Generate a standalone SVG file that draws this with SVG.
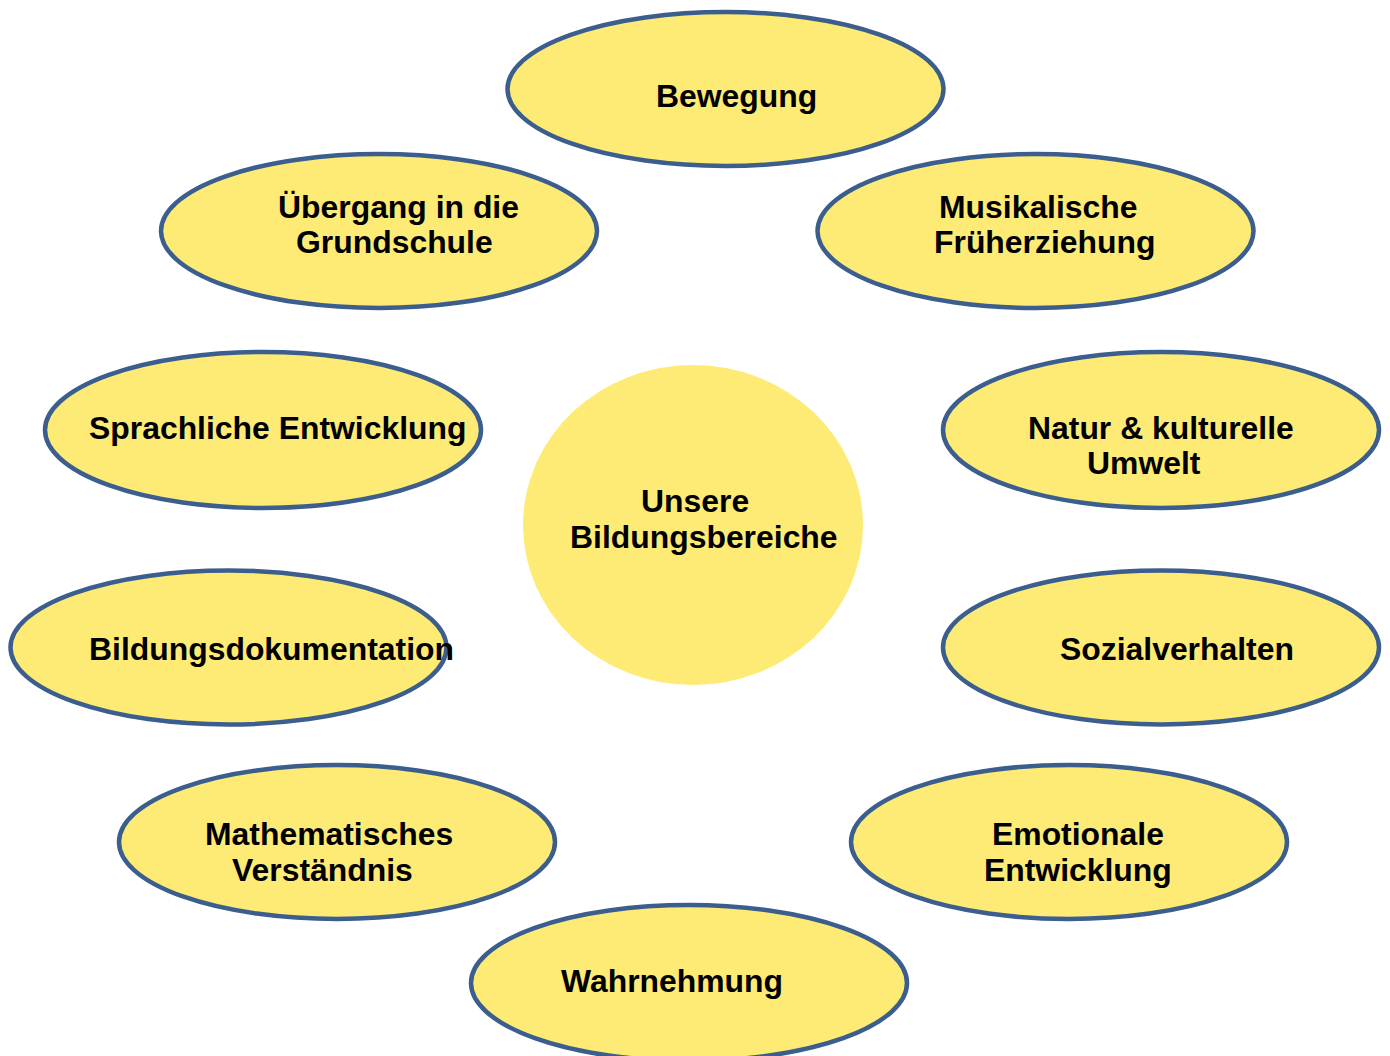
<svg xmlns="http://www.w3.org/2000/svg" width="1390" height="1056" viewBox="0 0 1390 1056">
  <style>
    .bubble { fill: #FEEB75; stroke: #3B5E8E; stroke-width: 4.5; }
    .hub { fill: #FEEB75; stroke: none; }
    .label { font-family: "Liberation Sans", Arial, sans-serif; font-weight: bold; font-size: 31.9px; fill: #000000; }
  </style>
  <rect width="1390" height="1056" fill="#FFFFFF"/>
  <g id="connectors"></g>

  <g id="node-bewegung">
    <ellipse class="bubble" cx="725.5" cy="89" rx="218" ry="77"/>
    <text class="label" x="656" y="107">Bewegung</text>
  </g>

  <g id="node-uebergang">
    <ellipse class="bubble" cx="379" cy="231" rx="218" ry="77"/>
    <text class="label" x="278" y="218">Übergang in die</text>
    <text class="label" x="296" y="253">Grundschule</text>
  </g>

  <g id="node-musik">
    <ellipse class="bubble" cx="1035.5" cy="231" rx="218" ry="77"/>
    <text class="label" x="939" y="218">Musikalische</text>
    <text class="label" x="934" y="253">Früherziehung</text>
  </g>

  <g id="node-sprache">
    <ellipse class="bubble" cx="263" cy="430" rx="218" ry="78"/>
    <text class="label" x="89" y="439">Sprachliche Entwicklung</text>
  </g>

  <g id="node-natur">
    <ellipse class="bubble" cx="1161" cy="430" rx="218" ry="78"/>
    <text class="label" x="1028" y="439">Natur &amp; kulturelle</text>
    <text class="label" x="1087" y="474">Umwelt</text>
  </g>

  <g id="node-zentrum">
    <ellipse class="hub" cx="693" cy="525" rx="170" ry="160"/>
    <text class="label" x="641" y="512">Unsere</text>
    <text class="label" x="570" y="548">Bildungsbereiche</text>
  </g>

  <g id="node-dokumentation">
    <ellipse class="bubble" cx="228.5" cy="647.5" rx="218" ry="77"/>
    <text class="label" x="89" y="660">Bildungsdokumentation</text>
  </g>

  <g id="node-sozial">
    <ellipse class="bubble" cx="1161" cy="647.5" rx="218" ry="77"/>
    <text class="label" x="1060" y="660">Sozialverhalten</text>
  </g>

  <g id="node-mathe">
    <ellipse class="bubble" cx="337" cy="842" rx="218" ry="77"/>
    <text class="label" x="205" y="845">Mathematisches</text>
    <text class="label" x="232" y="881">Verständnis</text>
  </g>

  <g id="node-emotional">
    <ellipse class="bubble" cx="1069" cy="842" rx="218" ry="77"/>
    <text class="label" x="992" y="845">Emotionale</text>
    <text class="label" x="984" y="881">Entwicklung</text>
  </g>

  <g id="node-wahrnehmung">
    <ellipse class="bubble" cx="689" cy="983" rx="218" ry="78"/>
    <text class="label" x="561" y="992">Wahrnehmung</text>
  </g>
</svg>
